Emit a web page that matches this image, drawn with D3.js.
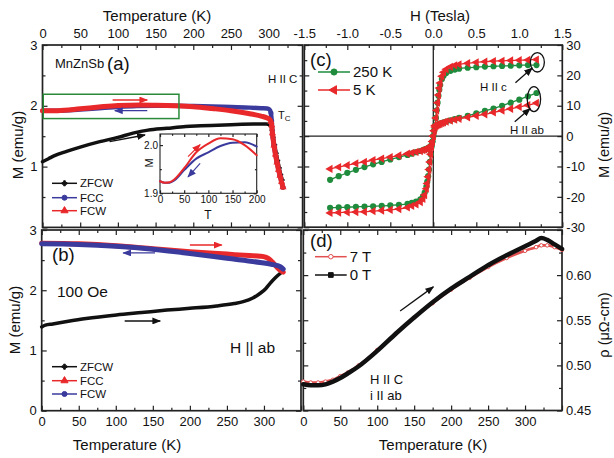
<!DOCTYPE html>
<html>
<head>
<meta charset="utf-8">
<script src="https://cdn.jsdelivr.net/npm/d3@7"></script>
<style>
  body { margin: 0; background: #fff; }
  text { font-family: "Liberation Sans", Arial, sans-serif; fill: #111; }
</style>
</head>
<body>
<svg></svg>
<script>

// DATA

// (a) M vs T, H || c
const aT_zfcw = [0, 8, 16, 32, 50, 76, 100, 120, 140, 165, 190, 210, 250, 280, 297, 301, 303, 304.5, 306, 308, 310, 312, 314, 316, 318];
const aM_zfcw = [1.08, 1.13, 1.18, 1.25, 1.32, 1.41, 1.48, 1.55, 1.60, 1.63, 1.66, 1.67, 1.69, 1.70, 1.70, 1.69, 1.67, 1.60, 1.48, 1.36, 1.22, 1.10, 0.98, 0.87, 0.78];
const aT_fcc = [0, 20, 50, 75, 100, 125, 150, 175, 200, 225, 250, 275, 290, 298, 301, 303, 304, 305, 307, 309, 311, 313, 315, 317, 319];
const aM_fcc = [1.92, 1.92, 1.94, 1.96, 1.98, 1.995, 2.0, 2.0, 1.995, 1.99, 1.98, 1.97, 1.96, 1.955, 1.94, 1.88, 1.75, 1.55, 1.35, 1.2, 1.07, 0.95, 0.85, 0.75, 0.66];
const aT_fcw = [0, 20, 50, 75, 100, 130, 150, 175, 200, 225, 250, 275, 290, 298, 301, 303, 304, 305, 307, 309, 311, 313, 315, 317, 319];
const aM_fcw = [1.92, 1.92, 1.95, 1.98, 2.005, 2.012, 2.008, 2.0, 1.985, 1.955, 1.92, 1.87, 1.83, 1.80, 1.78, 1.74, 1.68, 1.55, 1.35, 1.2, 1.07, 0.95, 0.85, 0.75, 0.66];

// (a) inset
const insT = [0, 10, 20, 30, 50, 75, 100, 125, 150, 175, 200];
const insM_fcc = [1.925, 1.922, 1.922, 1.927, 1.948, 1.972, 1.985, 1.998, 2.005, 2.006, 1.997];
const insM_fcw = [1.925, 1.922, 1.923, 1.929, 1.952, 1.985, 2.003, 2.014, 2.012, 2.0, 1.979];

// (b) M vs T, H || ab
const bT_zfcw = [0, 5, 15, 34, 60, 101, 135, 169, 200, 236, 260, 272, 285, 295, 302, 308, 314, 319, 325];
const bM_zfcw = [1.39, 1.42, 1.44, 1.48, 1.53, 1.59, 1.63, 1.67, 1.70, 1.74, 1.78, 1.81, 1.87, 1.95, 2.02, 2.11, 2.19, 2.25, 2.31];
const bT_fcc = [0, 50, 100, 150, 200, 250, 280, 295, 302, 307, 312, 317, 322, 326];
const bM_fcc = [2.78, 2.77, 2.74, 2.69, 2.64, 2.60, 2.575, 2.565, 2.55, 2.52, 2.46, 2.39, 2.33, 2.30];
const bT_fcw = [0, 50, 100, 150, 200, 250, 295, 310, 318, 322, 326];
const bM_fcw = [2.77, 2.76, 2.73, 2.68, 2.61, 2.53, 2.46, 2.43, 2.41, 2.39, 2.35];

// (c) M vs H loops
const cH = [-1.2, -1.1, -1.0, -0.9, -0.8, -0.7, -0.6, -0.5, -0.4, -0.3, -0.25, -0.2, -0.15, -0.12, -0.1, -0.08, -0.07, -0.06, -0.05, -0.04, -0.03, -0.02, -0.01,
  0, 0.01, 0.02, 0.03, 0.04, 0.05, 0.06, 0.07, 0.08, 0.1, 0.12, 0.15, 0.2, 0.25, 0.3, 0.4, 0.5, 0.6, 0.7, 0.8, 0.9, 1.0, 1.1, 1.2];
const cM_c250 = [-23.6, -23.5, -23.4, -23.3, -23.2, -23.1, -23.0, -22.8, -22.6, -22.3, -22.0, -21.6, -20.8, -19.8, -18.6, -16.6, -15.0, -13.2, -11.0, -8.5, -6.0, -3.5, -1.8,
  0, 1.8, 3.5, 6, 8.5, 11, 13.3, 15.3, 16.8, 18.8, 19.9, 20.8, 21.5, 21.9, 22.2, 22.5, 22.7, 22.9, 23.0, 23.1, 23.2, 23.3, 23.4, 23.4];
const cM_c5 = [-25.3, -25.2, -25.1, -25.0, -24.9, -24.7, -24.5, -24.3, -24.0, -23.5, -23.0, -22.5, -21.7, -20.7, -19.4, -17.3, -15.6, -13.4, -11.0, -8.5, -6.0, -3.5, -1.8,
  0, 1.8, 3.5, 6, 8.5, 11, 13.5, 15.8, 17.5, 19.7, 21.0, 22.0, 22.8, 23.3, 23.6, 24.0, 24.3, 24.5, 24.7, 24.8, 24.9, 25.0, 25.1, 25.2];
const cM_ab250 = [-14.4, -13.2, -12.1, -11.1, -10.2, -9.3, -8.5, -7.7, -6.9, -6.2, -5.8, -5.3, -4.9, -4.6, -4.4, -4.2, -4.1, -4.0, -3.8, -3.6, -3.4, -3.0, -1.8,
  0, 1.8, 3.0, 3.4, 3.6, 3.8, 3.9, 4.0, 4.1, 4.3, 4.5, 4.8, 5.2, 5.6, 6.0, 6.7, 7.5, 8.3, 9.1, 10.0, 11.0, 12.0, 13.1, 14.2];
const cM_ab5 = [-10.8, -10.2, -9.6, -9.0, -8.5, -7.9, -7.4, -6.9, -6.4, -5.8, -5.5, -5.2, -4.9, -4.6, -4.4, -4.2, -4.1, -4.0, -3.8, -3.6, -3.4, -3.0, -1.8,
  0, 1.8, 3.0, 3.4, 3.6, 3.8, 3.9, 4.0, 4.1, 4.3, 4.5, 4.8, 5.1, 5.4, 5.7, 6.2, 6.7, 7.2, 7.8, 8.4, 9.0, 9.6, 10.2, 10.9];

// (d) resistivity vs T
const dT = [0, 10, 20, 30, 40, 50, 60, 75, 100, 125, 150, 175, 200, 225, 250, 275, 300, 315, 322, 330, 340, 350];
const dRho0T = [0.479, 0.478, 0.478, 0.479, 0.482, 0.486, 0.491, 0.499, 0.516, 0.535, 0.553, 0.570, 0.585, 0.598, 0.611, 0.622, 0.632, 0.638, 0.641, 0.639, 0.634, 0.629];
const dRho7T = [0.482, 0.481, 0.481, 0.482, 0.484, 0.488, 0.492, 0.500, 0.517, 0.535, 0.553, 0.569, 0.584, 0.597, 0.609, 0.619, 0.627, 0.631, 0.633, 0.633, 0.631, 0.628];

// COLOURS

const RED = "#e8282a", BLUE = "#3b3b9e", BLACK = "#111", GREEN = "#1e8c3c";

// PAGE SETUP

const svg = d3.select("svg").attr("width", 614).attr("height", 458);
svg.append("rect").attr("width", 614).attr("height", 458).attr("fill", "#fff");

const defs = svg.append("defs");
[["red", RED], ["blue", BLUE], ["black", BLACK]].forEach(([id, c]) => {
  defs.append("marker")
    .attr("id", "arr-" + id)
    .attr("viewBox", "0 0 10 8").attr("refX", 9).attr("refY", 4)
    .attr("markerWidth", 9).attr("markerHeight", 7)
    .attr("markerUnits", "userSpaceOnUse").attr("orient", "auto")
    .append("path").attr("d", "M0,0L10,4L0,8z").attr("fill", c);
});

// SCALES

const xA = d3.scaleLinear().domain([0, 345]).range([42.5, 302.6]);
const yA = d3.scaleLinear().domain([0, 3]).range([227.4, 45]);
const xB = d3.scaleLinear().domain([0, 350]).range([41.7, 301]);
const yB = d3.scaleLinear().domain([0, 3]).range([410.7, 230]);
const xC = d3.scaleLinear().domain([-1.5, 1.5]).range([304.3, 562.3]);
const yC = d3.scaleLinear().domain([-30, 30]).range([227.2, 45]);
const xD = d3.scaleLinear().domain([0, 350]).range([303.3, 562]);
const yD = d3.scaleLinear().domain([0.45, 0.65]).range([410.5, 230]);
const xIn = d3.scaleLinear().domain([0, 200]).range([160, 256.7]);
const yIn = d3.scaleLinear().domain([1.9, 2.023]).range([193.3, 134]);

// HELPERS

function side(maker, scale, transform, major, minor, fmt, pad, size, fs) {
  const gMin = svg.append("g").attr("transform", transform)
    .call(maker(scale).tickValues(minor).tickSize(-size * 0.6).tickFormat(""));
  const gMaj = svg.append("g").attr("transform", transform)
    .call(maker(scale).tickValues(major).tickSize(-size).tickPadding(pad)
      .tickFormat(fmt ? fmt : () => ""));
  [gMin, gMaj].forEach(g => {
    g.select(".domain").remove();
    g.selectAll(".tick line").attr("stroke", "#222").attr("stroke-width", 1.2);
    g.selectAll(".tick text").attr("font-size", fs).attr("fill", "#111")
      .attr("font-family", '"Liberation Sans", Arial, sans-serif');
  });
}

function frame(x, y, o) {
  const [x0, x1] = x.range(), [y0, y1] = y.range();
  const size = o.size || 5, fs = o.fs || 13;
  side(d3.axisBottom, x, `translate(0,${y0})`, o.xMajor, o.xMinor, o.bottom, o.padB || 6, size, fs);
  side(d3.axisTop, x, `translate(0,${y1})`, o.xMajor, o.xMinor, o.top, o.padT || 7, size, fs);
  side(d3.axisLeft, y, `translate(${x0},0)`, o.yMajor, o.yMinor, o.left, o.padL || 5, size, fs);
  side(d3.axisRight, y, `translate(${x1},0)`, o.yMajor, o.yMinor, o.right, o.padR || 4, size, fs);
  svg.append("rect")
    .attr("x", x0).attr("y", y1).attr("width", x1 - x0).attr("height", y0 - y1)
    .attr("fill", "none").attr("stroke", "#222").attr("stroke-width", o.sw || 1.7);
}

function curve(x, y, T, V, color, width) {
  svg.append("path")
    .datum(d3.zip(T, V))
    .attr("fill", "none").attr("stroke", color).attr("stroke-width", width)
    .attr("stroke-linejoin", "round").attr("stroke-linecap", "round")
    .attr("d", d3.line().x(d => x(d[0])).y(d => y(d[1])).curve(d3.curveMonotoneX));
}

function points(x, y, T, V, type, size, fill, stroke, rotate) {
  svg.append("g").selectAll("path")
    .data(d3.zip(T, V))
    .enter().append("path")
    .attr("transform", d => `translate(${x(d[0])},${y(d[1])}) rotate(${rotate || 0})`)
    .attr("d", d3.symbol().type(type).size(size))
    .attr("fill", fill).attr("stroke", stroke || "none").attr("stroke-width", 1);
}

function arrow(x, y, p0, p1, id, w) {
  svg.append("line")
    .attr("x1", x(p0[0])).attr("y1", y(p0[1]))
    .attr("x2", x(p1[0])).attr("y2", y(p1[1]))
    .attr("stroke", id === "red" ? RED : id === "blue" ? BLUE : BLACK)
    .attr("stroke-width", w || 1.4)
    .attr("marker-end", `url(#arr-${id})`);
}

function label(x, y, str, size, anchor, rot) {
  const t = svg.append("text")
    .attr("transform", `translate(${x},${y})` + (rot ? ` rotate(${rot})` : ""))
    .attr("font-size", size).attr("text-anchor", anchor || "start")
    .text(str);
  return t;
}

function legendRow(x0, x1, y, color, type, size, fill, text, fs, rotate) {
  svg.append("line").attr("x1", x0).attr("x2", x1).attr("y1", y).attr("y2", y)
    .attr("stroke", color).attr("stroke-width", 1.5);
  svg.append("path")
    .attr("transform", `translate(${(x0 + x1) / 2},${y}) rotate(${rotate || 0})`)
    .attr("d", d3.symbol().type(type).size(size))
    .attr("fill", fill).attr("stroke", color).attr("stroke-width", 1);
  label(x1 + 3, y, text, fs).attr("dy", "0.35em");
}

const range = (a, b, s) => d3.range(a, b + s / 2, s);
const fmtInt = d => d <= 300 ? d : "";
const triLeft = d3.symbolTriangle;

// PANEL (a)

frame(xA, yA, {
  xMajor: range(0, 300, 50), xMinor: range(25, 325, 50),
  yMajor: [0, 1, 2, 3], yMinor: [0.5, 1.5, 2.5],
  top: d => d, left: d => d > 0 ? d : ""
});

curve(xA, yA, aT_zfcw, aM_zfcw, BLACK, 3.5);
points(xA, yA, aT_zfcw.slice(16), aM_zfcw.slice(16), d3.symbolCross, 14, BLACK);
curve(xA, yA, aT_fcc, aM_fcc, BLUE, 4.5);
points(xA, yA, aT_fcc.slice(15), aM_fcc.slice(15), d3.symbolCircle, 20, BLUE);
curve(xA, yA, aT_fcw, aM_fcw, RED, 5);
points(xA, yA, aT_fcw.slice(15), aM_fcw.slice(15), d3.symbolTriangle, 22, RED);

// green box around the low temperature region
svg.append("rect")
  .attr("x", xA(1)).attr("y", yA(2.19))
  .attr("width", xA(181) - xA(1)).attr("height", yA(1.79) - yA(2.19))
  .attr("fill", "none").attr("stroke", "#2a8a3a").attr("stroke-width", 1.5);

arrow(xA, yA, [93, 2.095], [139, 2.095], "red");
arrow(xA, yA, [139, 1.92], [96, 1.92], "blue");
arrow(xA, yA, [89, 1.41], [136, 1.52], "black");

label(55, 68, "MnZnSb", 13);
label(107, 69.5, "(a)", 18.5);
label(268, 83, "H II C", 11.5);
const tc = label(278, 119, "T", 11);
tc.append("tspan").attr("font-size", 8).attr("dy", 2).text("C");

legendRow(52, 77, 183.3, BLACK, d3.symbolCross, 14, BLACK, "ZFCW", 11.5);
legendRow(52, 77, 197.7, BLUE, d3.symbolCircle, 20, BLUE, "FCC", 11.5);
legendRow(52, 77, 210.7, RED, d3.symbolTriangle, 22, RED, "FCW", 11.5);

// inset
svg.append("rect").attr("x", 160).attr("y", 134).attr("width", 96.7).attr("height", 59.3).attr("fill", "#fff");
frame(xIn, yIn, {
  xMajor: range(0, 200, 50), xMinor: range(25, 175, 50),
  yMajor: [1.9, 2.0], yMinor: [1.95],
  bottom: d => d, left: d => d.toFixed(1),
  size: 3, fs: 10, padB: 3, padL: 2, sw: 1.1
});
curve(xIn, yIn, insT, insM_fcc, BLUE, 2);
curve(xIn, yIn, insT, insM_fcw, RED, 2);
arrow(xIn, yIn, [58, 1.976], [83, 2.001], "red", 1.2);
arrow(xIn, yIn, [83, 1.962], [58, 1.934], "blue", 1.2);
label(149, 163, "M", 11, "middle", -90).attr("dy", "0.35em");
label(208, 219, "T", 12, "middle");

// PANEL (b)

frame(xB, yB, {
  xMajor: range(0, 350, 50), xMinor: range(25, 325, 50),
  yMajor: [0, 1, 2, 3], yMinor: [0.5, 1.5, 2.5],
  bottom: fmtInt, left: d => d
});

curve(xB, yB, bT_zfcw, bM_zfcw, BLACK, 3.5);
curve(xB, yB, bT_fcc, bM_fcc, RED, 5);
curve(xB, yB, bT_fcw, bM_fcw, BLUE, 5);

arrow(xB, yB, [200, 2.75], [243, 2.75], "red");
arrow(xB, yB, [153, 2.62], [110, 2.62], "blue");
arrow(xB, yB, [112, 1.49], [160, 1.49], "black");

label(52, 261, "(b)", 18.5);
label(57, 297, "100 Oe", 15.5);
label(230, 353, "H || ab", 15.5);

legendRow(52, 77, 366.7, BLACK, d3.symbolCross, 14, BLACK, "ZFCW", 11.5);
legendRow(52, 77, 380.7, RED, d3.symbolTriangle, 22, RED, "FCC", 11.5);
legendRow(52, 77, 394, BLUE, d3.symbolCircle, 20, BLUE, "FCW", 11.5);

// PANEL (c)

frame(xC, yC, {
  xMajor: range(-1.5, 1.5, 0.5), xMinor: range(-1.25, 1.25, 0.5),
  yMajor: range(-30, 30, 10), yMinor: range(-25, 25, 10),
  top: d => d.toFixed(1), right: d => d
});

svg.append("line").attr("x1", xC(0)).attr("x2", xC(0)).attr("y1", yC(30)).attr("y2", yC(-30))
  .attr("stroke", "#222").attr("stroke-width", 1.3);
svg.append("line").attr("x1", xC(-1.5)).attr("x2", xC(1.5)).attr("y1", yC(0)).attr("y2", yC(0))
  .attr("stroke", "#222").attr("stroke-width", 1.3);

[cM_ab250, cM_c250].forEach(M => {
  curve(xC, yC, cH, M, GREEN, 1.3);
  points(xC, yC, cH, M, d3.symbolCircle, 30, GREEN);
});
[cM_ab5, cM_c5].forEach(M => {
  curve(xC, yC, cH, M, RED, 1.3);
  points(xC, yC, cH, M, triLeft, 30, RED, null, -90);
});

svg.append("ellipse").attr("cx", xC(1.21)).attr("cy", yC(24.3)).attr("rx", 7).attr("ry", 9.7)
  .attr("fill", "none").attr("stroke", BLACK).attr("stroke-width", 1.3);
svg.append("ellipse").attr("cx", xC(1.17)).attr("cy", yC(12.2)).attr("rx", 6.7).attr("ry", 12.5)
  .attr("fill", "none").attr("stroke", BLACK).attr("stroke-width", 1.3);
arrow(xC, yC, [0.955, 17.6], [1.15, 22.4], "black", 1.3);
arrow(xC, yC, [0.947, 4.7], [1.126, 9.1], "black", 1.3);

label(310, 66, "(c)", 18.5);
legendRow(318, 350, 72, GREEN, d3.symbolCircle, 30, GREEN, "250 K", 15);
legendRow(318, 350, 90, RED, triLeft, 32, RED, "5 K", 15, -90);
label(480, 91, "H II c", 11.5);
label(510, 134, "H II ab", 11.5);

// PANEL (d)

frame(xD, yD, {
  xMajor: range(0, 350, 50), xMinor: range(25, 325, 50),
  yMajor: range(0.45, 0.65, 0.05), yMinor: range(0.475, 0.625, 0.05),
  bottom: fmtInt, right: d => d < 0.62 ? d.toFixed(2) : ""
});

curve(xD, yD, dT, dRho7T, "#e25050", 2.6);
points(xD, yD, dT, dRho7T, d3.symbolCircle, 10, "#fff", "#e25050");
curve(xD, yD, dT, dRho0T, BLACK, 4.5);

arrow(xD, yD, [131, 0.5603], [176, 0.587], "black", 1.3);

label(310, 247, "(d)", 18.5);
legendRow(315, 346.7, 256.7, "#e25050", d3.symbolCircle, 16, "#fff", "7 T", 15);
legendRow(315, 346.7, 275, BLACK, d3.symbolSquare, 22, BLACK, "0 T", 15);
label(370, 384, "H II C", 13);
label(370, 400, "i II ab", 13);

// AXIS TITLES

label(157, 21, "Temperature (K)", 15, "middle");
label(440, 21, "H (Tesla)", 15, "middle");
label(127, 450, "Temperature (K)", 15, "middle");
label(433, 450, "Temperature (K)", 15, "middle");
label(18, 145, "M (emu/g)", 15, "middle", -90).attr("dy", "0.35em");
label(15, 320, "M (emu/g)", 15, "middle", -90).attr("dy", "0.35em");
label(609, 145, "M (emu/g)", 14.5, "middle", -90);
label(609, 325, "ρ (μΩ-cm)", 14.5, "middle", -90);

</script>
</body>
</html>
